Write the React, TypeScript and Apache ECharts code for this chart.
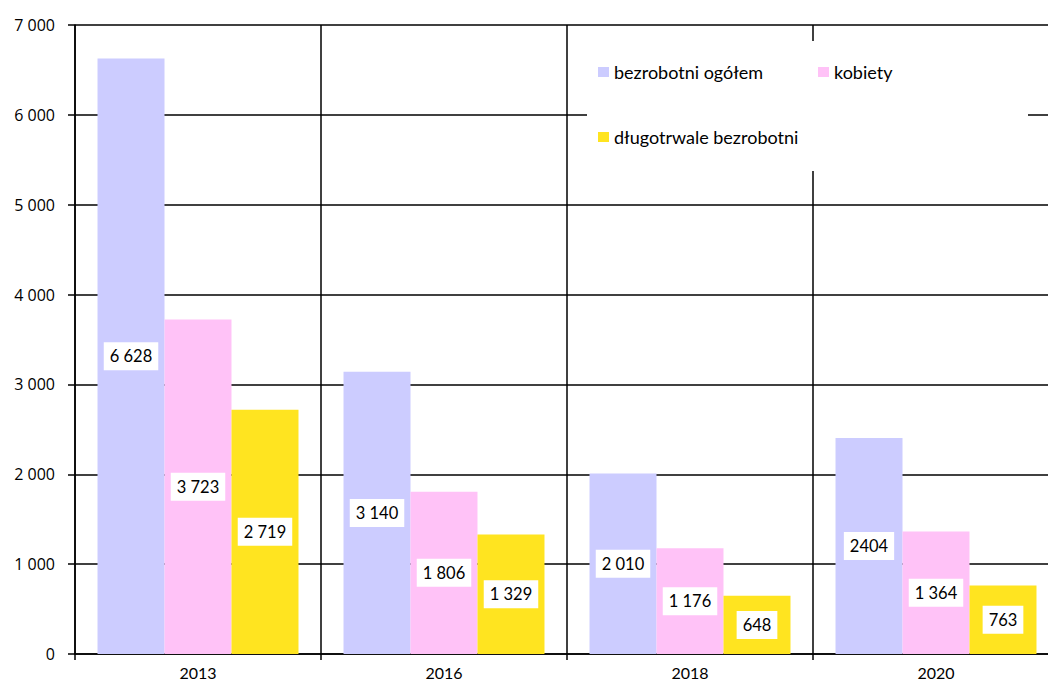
import React, { useEffect, useRef } from "react";
import * as echarts from "echarts";

const categories = ["2013", "2016", "2018", "2020"];
const seriesNames = ["bezrobotni ogółem", "kobiety", "długotrwale bezrobotni"];
const ogolem = [6628, 3140, 2010, 2404];
const kobiety = [3723, 1806, 1176, 1364];
const dlugotrwale = [2719, 1329, 648, 763];
const ogolemLabels = ["6 628", "3 140", "2 010", "2404"];
const kobietyLabels = ["3 723", "1 806", "1 176", "1 364"];
const dlugotrwaleLabels = ["2 719", "1 329", "648", "763"];
const yTicks = [0, 1000, 2000, 3000, 4000, 5000, 6000, 7000];

const colors = ["#CCCCFF", "#FFC2F7", "#FFE420"];

export default function App() {
  const ref = useRef<HTMLDivElement>(null);
  useEffect(() => {
    if (!ref.current) return;
    const chart = echarts.init(ref.current, undefined, { renderer: "svg" });
    const values = [ogolem, kobiety, dlugotrwale];
    const labels = [ogolemLabels, kobietyLabels, dlugotrwaleLabels];
    const legendPos = [
      { left: 598, top: 63 },
      { left: 818, top: 63 },
      { left: 598, top: 128 },
    ];
    chart.setOption({
      animation: false,
      backgroundColor: "#ffffff",
      grid: {
        left: 75,
        top: 25,
        bottom: 30,
        width: 984,
        containLabel: false,
        outerBoundsMode: "none",
      },
      graphic: [
        {
          type: "rect",
          z: 3,
          shape: { x: 587, y: 41, width: 441, height: 130 },
          style: { fill: "#ffffff" },
        },
      ],
      legend: seriesNames.map((n, i) => ({
        data: [n],
        left: legendPos[i].left,
        top: legendPos[i].top,
        padding: 0,
        itemWidth: 11,
        itemHeight: 10,
        icon: "rect",
        selectedMode: false,
        z: 5,
        textStyle: { fontFamily: "Lato", fontSize: 18, color: "#000" },
      })),
      xAxis: {
        type: "category",
        data: categories,
        axisLine: { lineStyle: { color: "#000", width: 1.5 } },
        axisTick: { show: true, length: 6, lineStyle: { color: "#000", width: 1.5 } },
        axisLabel: { fontFamily: "Lato", fontSize: 16, color: "#000", margin: 10 },
        splitLine: { show: true, lineStyle: { color: "#000", width: 1.5 } },
      },
      yAxis: {
        type: "value",
        min: yTicks[0],
        max: yTicks[yTicks.length - 1],
        interval: 1000,
        axisLine: { show: true, lineStyle: { color: "#000", width: 1.5 } },
        axisTick: { show: true, length: 7, lineStyle: { color: "#000", width: 1.5 } },
        axisLabel: {
          fontFamily: "Open Sans",
          fontSize: 16,
          color: "#000",
          margin: 20,
          formatter: (v: number) => String(v).replace(/\B(?=(\d{3})+(?!\d))/g, " "),
        },
        splitLine: { show: true, lineStyle: { color: "#000", width: 1.5 } },
      },
      series: seriesNames.map((n, i) => ({
        name: n,
        type: "bar",
        data: values[i],
        barGap: "0%",
        barCategoryGap: "18.3%",
        itemStyle: { color: colors[i] },
        label: {
          show: true,
          position: "inside",
          color: "#000",
          backgroundColor: "#ffffff",
          padding: [6, 6, 5, 6],
          fontFamily: "Lato",
          fontSize: 16.5,
          formatter: (p: any) => labels[i][p.dataIndex],
        },
      })),
    });
    return () => chart.dispose();
  }, []);
  return (
    <div
      ref={ref}
      style={{ position: "fixed", left: 0, top: 0, width: 1048, height: 684 }}
    />
  );
}
